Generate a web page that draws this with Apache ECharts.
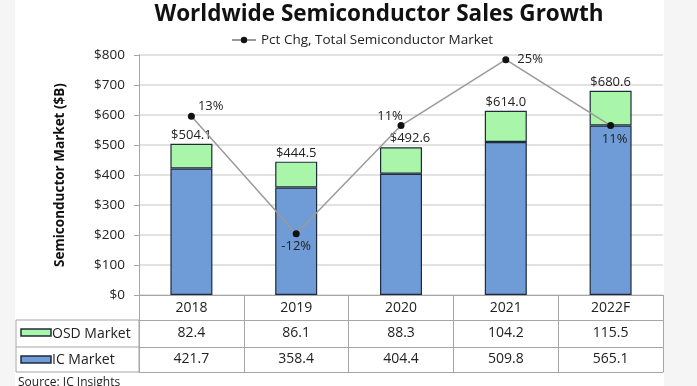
<!DOCTYPE html>
<html>
<head>
<meta charset="utf-8">
<script src="https://cdn.jsdelivr.net/npm/echarts@6/dist/echarts.min.js"></script>
<style>
html,body{margin:0;padding:0;background:#f5f5f5;}
#chart{width:697px;height:386px;}
</style>
</head>
<body>
<div id="chart"></div>
<script>
const years = ['2018', '2019', '2020', '2021', '2022F'];
const osdMarket = [82.4, 86.1, 88.3, 104.2, 115.5];
const icMarket = [421.7, 358.4, 404.4, 509.8, 565.1];
const totalMarket = [504.1, 444.5, 492.6, 614.0, 680.6];
const pctChg = [13, -12, 11, 25, 11];
const yTicks = [0, 100, 200, 300, 400, 500, 600, 700, 800];

const FONT = 'Open Sans';
const gridColor = '#a6a6a6';

const pctLabelPos = [
  {position: 'right', distance: 3, offset: [0, -10]},
  {position: 'bottom', distance: 2},
  {position: 'top', distance: 1, offset: [-11, 2]},
  {position: 'right', distance: 8},
  {position: 'bottom', distance: 4, offset: [4, 0]}
];

const chart = echarts.init(document.getElementById('chart'));
chart.setOption({
  backgroundColor: '#f5f5f5',
  animation: false,
  textStyle: {fontFamily: FONT},
  title: {
    text: 'Worldwide Semiconductor Sales Growth',
    left: 374, textAlign: 'center', top: -2,
    textStyle: {fontFamily: FONT, fontSize: 22.5, fontWeight: 'bold', color: '#111'}
  },
  legend: {
    data: ['Pct Chg, Total Semiconductor Market'],
    left: 226, top: 28,
    itemWidth: 24, itemHeight: 8, itemGap: 4,
    textStyle: {fontFamily: FONT, fontSize: 13.5, color: '#222'}
  },
  graphic: [
    {type: 'rect', z: -10, shape: {x: 15, y: 0, width: 649, height: 386}, style: {fill: '#ffffff'}},
    {type: 'rect', shape: {x: 16, y: 320, width: 123, height: 52}, style: {fill: 'none', stroke: gridColor, lineWidth: 1}},
    {type: 'line', shape: {x1: 16, y1: 347, x2: 139, y2: 347}, style: {stroke: gridColor, lineWidth: 1}},
    {type: 'rect', shape: {x: 21, y: 329, width: 30, height: 7}, style: {fill: '#a9f5a9', stroke: '#1f2b3a', lineWidth: 1.5}},
    {type: 'rect', shape: {x: 21, y: 356, width: 30, height: 7}, style: {fill: '#6f9bd6', stroke: '#1f2b3a', lineWidth: 1.5}},
    {type: 'text', style: {x: 52, y: 334, text: 'OSD Market', fontFamily: FONT, fontSize: 14, fill: '#222', verticalAlign: 'middle'}},
    {type: 'text', style: {x: 52, y: 360, text: 'IC Market', fontFamily: FONT, fontSize: 14, fill: '#222', verticalAlign: 'middle'}},
    {type: 'text', style: {x: 18, y: 377, text: 'Source: IC Insights', fontFamily: FONT, fontSize: 12, fill: '#222'}}
  ],
  grid: {left: 139, right: 34, top: 55, bottom: 91, containLabel: false},
  xAxis: [
    {
      type: 'category', data: years, position: 'bottom',
      axisLine: {onZero: false, lineStyle: {color: gridColor, width: 1}},
      axisTick: {show: true, length: 77, interval: 0, lineStyle: {color: gridColor}},
      axisLabel: {fontFamily: FONT, fontSize: 14, color: '#222', margin: 6, interval: 0}
    },
    {
      type: 'category', data: years, position: 'bottom', offset: 25,
      axisLine: {onZero: false, lineStyle: {color: gridColor, width: 1}},
      axisTick: {show: false},
      axisLabel: {fontFamily: FONT, fontSize: 14, color: '#222', margin: 6, interval: 0,
        formatter: (v, i) => osdMarket[i].toFixed(1)}
    },
    {
      type: 'category', data: years, position: 'bottom', offset: 52,
      axisLine: {onZero: false, lineStyle: {color: gridColor, width: 1}},
      axisTick: {show: false},
      axisLabel: {fontFamily: FONT, fontSize: 14, color: '#222', margin: 5, interval: 0,
        formatter: (v, i) => icMarket[i].toFixed(1)}
    },
    {
      type: 'category', data: years, position: 'bottom', offset: 77,
      axisLine: {onZero: false, lineStyle: {color: gridColor, width: 1}},
      axisTick: {show: false},
      axisLabel: {show: false}
    }
  ],
  yAxis: [
    {
      type: 'value', min: yTicks[0], max: yTicks[yTicks.length - 1], interval: 100,
      name: 'Semiconductor Market ($B)', nameLocation: 'middle', nameGap: 72,
      nameTextStyle: {fontFamily: FONT, fontSize: 13.5, fontWeight: 'bold', color: '#111'},
      axisLine: {show: true, lineStyle: {color: gridColor}},
      axisTick: {show: true, length: 5, lineStyle: {color: gridColor}},
      axisLabel: {fontFamily: FONT, fontSize: 13.5, color: '#222', margin: 14,
        formatter: v => '$' + v},
      splitLine: {lineStyle: {color: '#d9d9d9', width: 1.5}}
    },
    {
      type: 'value', min: -25, max: 26, show: false, splitLine: {show: false}
    }
  ],
  series: [
    {
      name: 'IC Market', type: 'bar', stack: 'total', data: icMarket, barWidth: 42,
      itemStyle: {color: '#6f9bd6', borderColor: '#1f2b3a', borderWidth: 1.2}
    },
    {
      name: 'OSD Market', type: 'bar', stack: 'total', data: osdMarket, barWidth: 42,
      itemStyle: {color: '#a9f5a9', borderColor: '#1f2b3a', borderWidth: 1.2},
      label: {
        show: true, position: 'top', distance: 2,
        fontFamily: FONT, fontSize: 13, color: '#222',
        formatter: p => '$' + totalMarket[p.dataIndex].toFixed(1)
      },
      labelLayout: p => (p.dataIndex === 2 ? {dx: 9} : {})
    },
    {
      name: 'Pct Chg, Total Semiconductor Market', type: 'line', yAxisIndex: 1, z: 5,
      data: pctChg.map((v, i) => ({value: v, label: pctLabelPos[i]})),
      symbol: 'circle', symbolSize: 7,
      lineStyle: {color: '#9a9a9a', width: 1.5},
      itemStyle: {color: '#111'},
      label: {show: true, fontFamily: FONT, fontSize: 13, color: '#222', formatter: p => p.value + '%'}
    }
  ]
});
</script>
</body>
</html>
